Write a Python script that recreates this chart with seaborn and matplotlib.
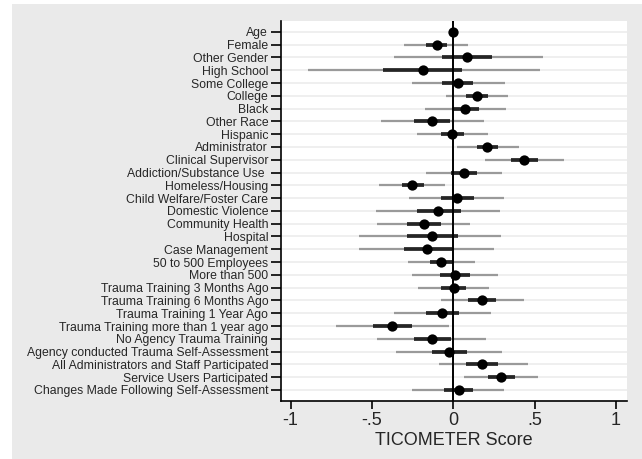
import numpy as np
import pandas as pd
import seaborn as sns
import matplotlib.pyplot as plt
from matplotlib.patches import Rectangle

labels = ['Age', 'Female', 'Other Gender', 'High School', 'Some College', 'College',
          'Black', 'Other Race', 'Hispanic', 'Administrator', 'Clinical Supervisor',
          'Addiction/Substance Use ', 'Homeless/Housing', 'Child Welfare/Foster Care',
          'Domestic Violence', 'Community Health', 'Hospital', 'Case Management',
          '50 to 500 Employees', 'More than 500', 'Trauma Training 3 Months Ago',
          'Trauma Training 6 Months Ago', 'Trauma Training 1 Year Ago',
          'Trauma Training more than 1 year ago', 'No Agency Trauma Training',
          'Agency conducted Trauma Self-Assessment', 'All Administrators and Staff Participated',
          'Service Users Participated', 'Changes Made Following Self-Assessment']

estimate = [0.0, -0.103, 0.083, -0.186, 0.028, 0.143, 0.073, -0.131, -0.008, 0.209,
            0.437, 0.065, -0.251, 0.025, -0.095, -0.181, -0.133, -0.161, -0.073, 0.008,
            0.003, 0.178, -0.068, -0.377, -0.131, -0.025, 0.178, 0.294, 0.033]

# inner (thick) interval
lo_in = [-0.004, -0.166, -0.070, -0.435, -0.070, 0.080, -0.005, -0.241, -0.078, 0.143,
         0.354, -0.015, -0.317, -0.078, -0.226, -0.284, -0.284, -0.304, -0.146, -0.080,
         -0.073, 0.093, -0.166, -0.492, -0.241, -0.131, 0.080, 0.216, -0.058]
hi_in = [0.004, -0.040, 0.241, 0.053, 0.123, 0.211, 0.161, -0.020, 0.065, 0.274,
         0.520, 0.148, -0.183, 0.128, 0.045, -0.078, 0.028, -0.010, 0.000, 0.100,
         0.080, 0.264, 0.035, -0.256, -0.015, 0.085, 0.276, 0.377, 0.123]

# outer (thin) interval
lo_out = [-0.006, -0.304, -0.367, -0.892, -0.256, -0.045, -0.171, -0.447, -0.221, 0.023,
          0.198, -0.166, -0.455, -0.271, -0.477, -0.472, -0.578, -0.578, -0.281, -0.256,
          -0.219, -0.073, -0.362, -0.724, -0.467, -0.352, -0.090, 0.068, -0.251]
hi_out = [0.006, 0.093, 0.550, 0.535, 0.317, 0.337, 0.324, 0.191, 0.211, 0.405,
          0.681, 0.299, -0.048, 0.314, 0.286, 0.103, 0.291, 0.249, 0.133, 0.274,
          0.219, 0.437, 0.231, -0.028, 0.201, 0.302, 0.462, 0.520, 0.312]

xticks = [-1, -0.5, 0, 0.5, 1]
xticklabels = ['-1', '-.5', '0', '.5', '1']

df = pd.DataFrame({'label': labels, 'est': estimate, 'lo_in': lo_in, 'hi_in': hi_in,
                   'lo_out': lo_out, 'hi_out': hi_out})
df['pos'] = np.arange(len(df))

sns.set_theme(style='white')
plt.rcParams['font.family'] = ['Liberation Sans', 'DejaVu Sans']

fig = plt.figure(figsize=(6.42, 4.59), dpi=100, facecolor='white')
fig.patches.append(Rectangle((12 / 642, 0), 1, 1 - 4 / 459, transform=fig.transFigure,
                             facecolor='#eaeaea', edgecolor='none', zorder=-10))
ax = fig.add_axes([280.7 / 642, 1 - 400.7 / 459, (627 - 280.7) / 642, (400.7 - 21) / 459])
ax.set_facecolor('white')

for p in df['pos']:
    ax.axhline(p, color='#ececec', lw=1.2, zorder=0)

ax.hlines(df['pos'], df['lo_out'], df['hi_out'], color='#9a9a9a', lw=1.6, zorder=2)
ax.hlines(df['pos'], df['lo_in'], df['hi_in'], color='#252525', lw=2.7, zorder=3)
ax.axvline(0, color='black', lw=1.4, zorder=4)
sns.scatterplot(data=df, x='est', y='pos', color='black', s=55, edgecolor='black',
                linewidth=0, zorder=5, ax=ax, legend=False)

ax.set_yticks(df['pos'])
ax.set_yticklabels(df['label'], fontsize=8.8)
ax.set_ylim(len(df) - 1 + 0.84, -0.85)
ax.set_xlim(-1.061, 1.068)
ax.set_xticks(xticks)
ax.set_xticklabels(xticklabels, fontsize=13)
ax.set_xlabel('TICOMETER Score', fontsize=13, labelpad=2)
ax.set_ylabel('')

for s in ['top', 'right']:
    ax.spines[s].set_visible(False)
for s in ['left', 'bottom']:
    ax.spines[s].set_color('black')
    ax.spines[s].set_linewidth(1.2)
ax.tick_params(axis='both', which='both', direction='out', length=6, width=1.2,
               color='black', pad=2, left=True, bottom=True)
ax.tick_params(axis='y', length=7)

fig.savefig('out.png', dpi=100, facecolor=fig.get_facecolor())
